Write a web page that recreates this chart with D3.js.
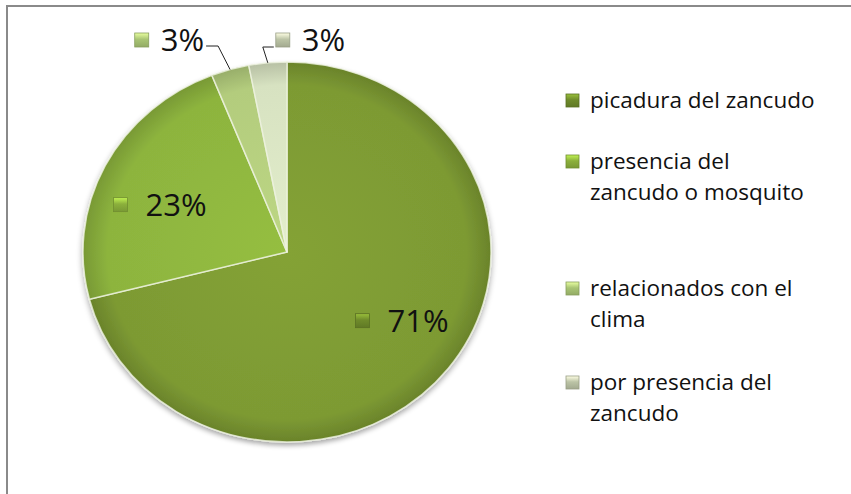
<!DOCTYPE html>
<html>
<head>
<meta charset="utf-8">
<script src="https://cdn.jsdelivr.net/npm/d3@7"></script>
<style>
body { margin: 0; background: #fff; }
svg { display: block; }
</style>
</head>
<body>
<script>
// chart data
var categories = ["picadura del zancudo", "presencia del zancudo o mosquito", "relacionados con el clima", "por presencia del zancudo"];
var values = [71, 23, 3, 3];
var pctLabels = ["71%", "23%", "3%", "3%"];
var legendLines = [["picadura del zancudo"], ["presencia del", "zancudo o mosquito"], ["relacionados con el", "clima"], ["por presencia del", "zancudo"]];

var colors = ["#7d9a33", "#8db43e", "#b3cc7d", "#d7e2c1"];
var markerColors = ["#6f8b2b", "#8cb03c", "#a9c574", "#bcc4a6"];

var width = 851, height = 494;
var cx = 287, cy = 252, rx = 204, ry = 190;
var font = "'Open Sans', Lato, sans-serif";

var svg = d3.select("body").append("svg")
	.attr("width", width)
	.attr("height", height);

var defs = svg.append("defs");

// soft shadow under the pie
var shadow = defs.append("filter").attr("id", "shadow")
	.attr("x", "-10%").attr("y", "-10%").attr("width", "120%").attr("height", "125%");
shadow.append("feGaussianBlur").attr("in", "SourceAlpha").attr("stdDeviation", 3);
shadow.append("feOffset").attr("dx", 0).attr("dy", 3).attr("result", "blur");
shadow.append("feComponentTransfer").append("feFuncA").attr("type", "linear").attr("slope", 0.35);
var merge = shadow.append("feMerge");
merge.append("feMergeNode");
merge.append("feMergeNode").attr("in", "SourceGraphic");

colors.forEach(function(c, i) {
	var rg = defs.append("radialGradient")
		.attr("id", "slice" + i)
		.attr("gradientUnits", "userSpaceOnUse")
		.attr("cx", 0).attr("cy", 0).attr("r", rx);
	rg.append("stop").attr("offset", "0%").attr("stop-color", d3.color(c).brighter(0.15));
	rg.append("stop").attr("offset", "88%").attr("stop-color", c);
	rg.append("stop").attr("offset", "100%").attr("stop-color", d3.color(c).darker(0.45));
});

markerColors.forEach(function(c, i) {
	var lg = defs.append("linearGradient")
		.attr("id", "mark" + i)
		.attr("x1", 0).attr("y1", 0).attr("x2", 0).attr("y2", 1);
	lg.append("stop").attr("offset", "0%").attr("stop-color", d3.color(c).brighter(0.9));
	lg.append("stop").attr("offset", "45%").attr("stop-color", c);
	lg.append("stop").attr("offset", "100%").attr("stop-color", d3.color(c).darker(0.4));
});

// frame (right and bottom sides fall outside the picture)
svg.append("rect")
	.attr("x", 7).attr("y", 6)
	.attr("width", width + 20).attr("height", height + 20)
	.attr("fill", "none")
	.attr("stroke", "#8a8a8a")
	.attr("stroke-width", 2);

var pie = d3.pie().sort(null).value(function(d) { return d; });
var arcs = pie(values);
var arc = d3.arc().innerRadius(0).outerRadius(rx);

var g = svg.append("g")
	.attr("transform", "translate(" + cx + "," + cy + ") scale(1," + (ry / rx) + ")")
	.attr("filter", "url(#shadow)");

g.selectAll("path.slice").data(arcs)
	.enter()
	.append("path")
	.attr("class", "slice")
	.attr("d", arc)
	.attr("fill", function(d, i) { return "url(#slice" + i + ")"; })
	.attr("stroke", "#eef3e0")
	.attr("stroke-opacity", 0.8)
	.attr("stroke-width", 1.5)
	.attr("vector-effect", "non-scaling-stroke")
	.attr("stroke-linejoin", "round");

// screen point on the ellipse
function pt(angle, r) {
	return [cx + r * Math.sin(angle), cy - r * Math.cos(angle) * ry / rx];
}

function marker(sel, x, y, s, i) {
	sel.append("rect")
		.attr("x", x).attr("y", y)
		.attr("width", s).attr("height", s)
		.attr("fill", "url(#mark" + i + ")")
		.attr("stroke", d3.color(markerColors[i]).darker(0.6))
		.attr("stroke-width", 0.8);
}

var labelSize = 31, markSize = 14;
var labels = svg.append("g").attr("class", "labels");

arcs.forEach(function(d, i) {
	var mid = (d.startAngle + d.endAngle) / 2;
	var t = labels.append("text")
		.attr("font-family", font)
		.attr("font-size", labelSize)
		.attr("fill", "#111")
		.text(pctLabels[i]);
	var tw = t.node().getComputedTextLength();
	if (d.value >= 10) {
		var p = pt(mid - 0.09, rx * 0.67);
		var total = markSize + 18 + tw;
		var x0 = p[0] - total / 2;
		marker(labels, x0, p[1] - markSize / 2, markSize, i);
		t.attr("x", x0 + markSize + 18).attr("y", p[1] + labelSize * 0.36);
	} else {
		var edge = pt(mid, rx);
		var left = i === 2;
		var elbow = left ? [edge[0] - 12, 46] : [edge[0] - 5, 47];
		var end = [elbow[0] + (left ? -12 : 11), elbow[1]];
		labels.append("path")
			.attr("d", d3.line()([edge, elbow, end]))
			.attr("fill", "none")
			.attr("stroke", "#222")
			.attr("stroke-width", 1);
		var xs = left ? end[0] - 2 - tw - 12 - markSize : end[0] + 2;
		marker(labels, xs, 40 - markSize / 2, markSize, i);
		t.attr("x", xs + markSize + 12).attr("y", 40 + labelSize * 0.36);
	}
});

// legend
var legendX = 566, legendText = 590;
var legendFirst = [108, 169, 296, 390];
var lineGap = 31;
var legend = svg.append("g").attr("class", "legend");

legendLines.forEach(function(lines, i) {
	var y0 = legendFirst[i];
	marker(legend, legendX, y0 - 14, 13, i);
	lines.forEach(function(line, j) {
		legend.append("text")
			.attr("x", legendText)
			.attr("y", y0 + j * lineGap)
			.attr("font-family", font)
			.attr("font-size", 22.5)
			.attr("fill", "#111")
			.text(line);
	});
});
</script>
</body>
</html>
